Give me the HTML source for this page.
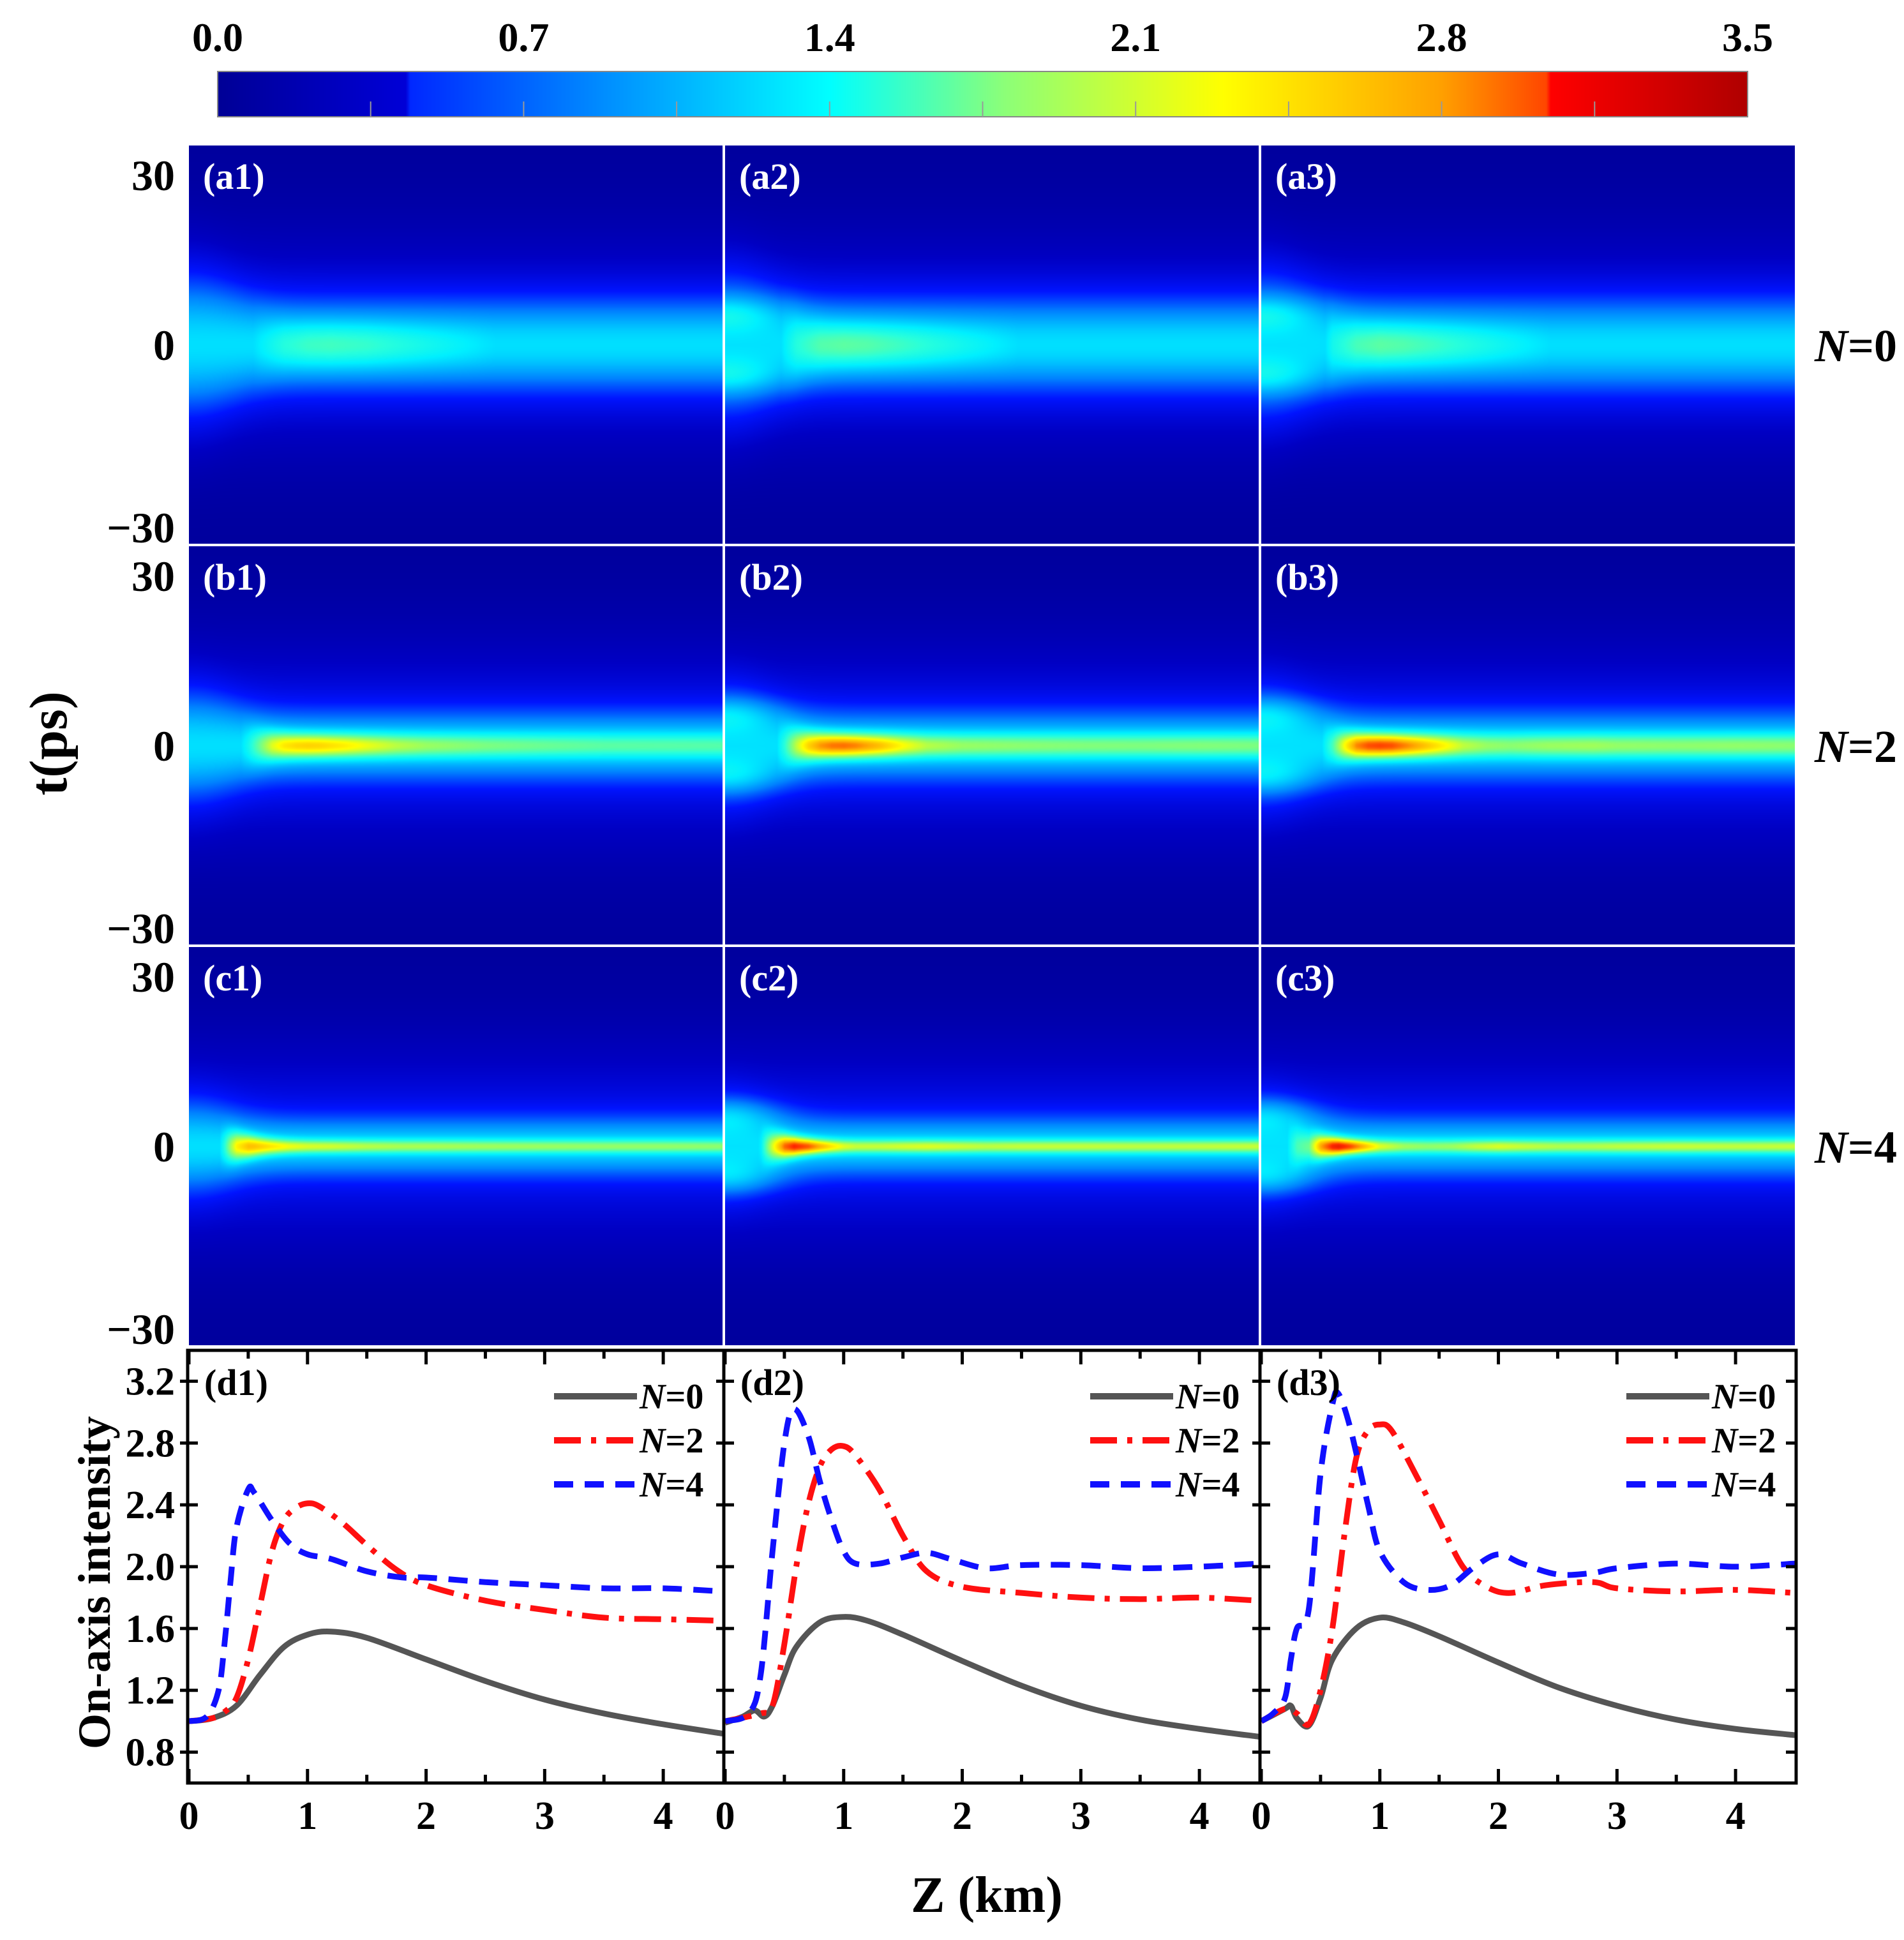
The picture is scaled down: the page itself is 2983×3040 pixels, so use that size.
<!DOCTYPE html>
<html><head><meta charset="utf-8">
<style>
html,body{margin:0;padding:0;background:#fff;}
#root{position:relative;width:2983px;height:3040px;overflow:hidden;background:#fff;}
canvas{position:absolute;}
svg{position:absolute;left:0;top:0;}
text{font-family:"Liberation Serif",serif;font-weight:bold;}
</style></head>
<body>
<div id="root">
<canvas id="cbar" width="2397" height="71" style="left:341px;top:112px"></canvas>
<svg id="svg" width="2983" height="3040" xmlns="http://www.w3.org/2000/svg"></svg>
</div>
<script>
// ---- colormap / colorbar data
const cbTickLabels=["0.0","0.7","1.4","2.1","2.8","3.5"];
const cbMin=0, cbMax=3.5;
const cmapVals=[0,0.43,0.44,0.9,1.4,1.8,2.3,2.8,3.04,3.05,3.5];
const cmapCols=[[0,0,150],[0,0,215],[0,40,255],[0,145,255],[0,255,255],[140,255,120],[255,255,0],[255,160,0],[255,70,0],[255,0,0],[175,0,0]];
const hmVals=[0,0.3,0.6,0.9,1.3,1.5,1.9,2.2,2.6,3.0,3.5];
const hmCols=[[0,0,150],[0,0,195],[0,20,255],[0,130,255],[0,240,255],[40,255,220],[160,255,90],[255,255,0],[255,170,0],[255,40,0],[170,0,0]];

// ---- line plot data (z in km, on-axis intensity)
const zTicks=[0,1,2,3,4];
const yTicks=[0.8,1.2,1.6,2.0,2.4,2.8,3.2];
const zMax=4.5, yMin=0.6, yMax=3.4;
const z_d1_n0=[0,0.2,0.4,0.6,0.8,1.0,1.2,1.5,2.0,2.5,3.0,3.5,4.0,4.5];
const I_d1_n0=[1.0,1.02,1.1,1.3,1.48,1.56,1.58,1.54,1.40,1.26,1.14,1.05,0.98,0.92];
const z_d1_n2=[0,0.2,0.3,0.4,0.5,0.6,0.7,0.8,0.9,1.0,1.1,1.3,1.5,1.75,2.0,2.5,3.0,3.5,4.0,4.5];
const I_d1_n2=[1.0,1.02,1.06,1.15,1.4,1.75,2.1,2.3,2.38,2.41,2.39,2.28,2.14,1.98,1.88,1.78,1.72,1.67,1.66,1.65];
const z_d1_n4=[0,0.15,0.25,0.3,0.35,0.4,0.5,0.55,0.7,0.85,1.0,1.2,1.5,1.8,2.0,2.5,3.0,3.5,4.0,4.5];
const I_d1_n4=[1.0,1.03,1.2,1.5,1.9,2.25,2.5,2.48,2.3,2.15,2.08,2.05,1.97,1.93,1.93,1.9,1.88,1.86,1.86,1.84];
const z_d2_n0=[0,0.15,0.25,0.33,0.4,0.5,0.6,0.8,1.0,1.2,1.5,2.0,2.5,3.0,3.5,4.0,4.5];
const I_d2_n0=[0.99,1.03,1.07,1.03,1.1,1.3,1.48,1.64,1.675,1.65,1.56,1.39,1.23,1.1,1.01,0.95,0.9];
const z_d2_n2=[0,0.3,0.4,0.5,0.6,0.7,0.8,0.9,1.0,1.1,1.3,1.5,1.7,2.0,2.5,3.0,3.5,4.0,4.5];
const I_d2_n2=[1.0,1.05,1.1,1.5,2.0,2.4,2.65,2.76,2.78,2.72,2.5,2.2,1.97,1.87,1.83,1.8,1.79,1.8,1.78];
const z_d2_n4=[0,0.2,0.3,0.4,0.5,0.58,0.7,0.8,0.9,1.0,1.1,1.3,1.5,1.7,1.9,2.2,2.5,3.0,3.5,4.0,4.5];
const I_d2_n4=[1.0,1.05,1.3,2.1,2.8,3.02,2.85,2.55,2.3,2.1,2.02,2.02,2.06,2.09,2.05,1.99,2.01,2.01,1.99,2.0,2.02];
const z_d3_n0=[0,0.2,0.25,0.3,0.4,0.5,0.6,0.8,1.0,1.2,1.5,2.0,2.5,3.0,3.5,4.0,4.5];
const I_d3_n0=[1.0,1.08,1.1,1.02,0.97,1.15,1.4,1.6,1.67,1.64,1.55,1.38,1.22,1.1,1.01,0.95,0.91];
const z_d3_n2=[0,0.2,0.3,0.4,0.5,0.6,0.7,0.8,0.9,1.0,1.1,1.3,1.5,1.7,1.9,2.1,2.4,2.8,3.0,3.5,4.0,4.5];
const I_d3_n2=[1.0,1.08,1.05,0.98,1.2,1.6,2.2,2.7,2.88,2.92,2.88,2.6,2.3,2.0,1.87,1.83,1.88,1.9,1.86,1.84,1.85,1.83];
const z_d3_n4=[0,0.1,0.2,0.25,0.3,0.4,0.5,0.6,0.65,0.75,0.9,1.0,1.2,1.4,1.6,1.8,2.0,2.2,2.5,2.8,3.0,3.5,4.0,4.5];
const I_d3_n4=[1.0,1.05,1.15,1.4,1.6,1.72,2.6,3.05,3.12,2.9,2.4,2.1,1.9,1.85,1.88,2.0,2.08,2.02,1.95,1.96,1.99,2.02,2.0,2.02];

// ---- heatmap model parameters (per row N=0,2,4)
const rowLabels=["N=0","N=2","N=4"];
const coreWidth=[4.0,2.0,1.1];
const haloAmp=[0.7,0.7,0.7];
const haloWidth=[8,6,5];
const bgAmp=0.5, bgWidth=18, floorVal=0.04;

const NS="http://www.w3.org/2000/svg";
const svg=document.getElementById('svg');
function mk(tag,attrs,parent){const e=document.createElementNS(NS,tag);for(const k in attrs)e.setAttribute(k,attrs[k]);(parent||svg).appendChild(e);return e;}
function interp(xs,ys,x){if(x<=xs[0])return ys[0];for(let i=1;i<xs.length;i++){if(x<=xs[i]){const f=(x-xs[i-1])/(xs[i]-xs[i-1]);return ys[i-1]+f*(ys[i]-ys[i-1]);}}return ys[ys.length-1];}
function cm(vals,cols,v){if(v<=vals[0])return cols[0];for(let i=1;i<vals.length;i++){if(v<=vals[i]){const f=(v-vals[i-1])/(vals[i]-vals[i-1]);const a=cols[i-1],b=cols[i];return [a[0]+f*(b[0]-a[0]),a[1]+f*(b[1]-a[1]),a[2]+f*(b[2]-a[2])];}}return cols[cols.length-1];}

const colX=[296,1136,1976], colW=836;
const rowY=[228,856,1484], rowH=624;
const dTop=2116, dBot=2794;
const pxPerPs=9;

(function(){const c=document.getElementById('cbar');const ctx=c.getContext('2d');const im=ctx.createImageData(c.width,c.height);
for(let x=0;x<c.width;x++){const v=cbMin+(cbMax-cbMin)*x/(c.width-1);const col=cm(cmapVals,cmapCols,v);for(let y=0;y<c.height;y++){const i=(y*c.width+x)*4;im.data[i]=col[0];im.data[i+1]=col[1];im.data[i+2]=col[2];im.data[i+3]=255;}}
ctx.putImageData(im,0,0);})();
const cbX0=341,cbW=2397,cbY0=112,cbH=71;
function cbx(v){return cbX0+(v-cbMin)/(cbMax-cbMin)*cbW;}
mk('rect',{x:cbX0,y:cbY0,width:cbW,height:cbH,fill:'none',stroke:'#888','stroke-width':2,});
for(let k=1;k<10;k++){const v=k*0.35;const t=mk('line',{x1:cbx(v),x2:cbx(v),y1:cbY0+cbH,y2:cbY0+cbH-24,stroke:'#999','stroke-width':2});

}
cbTickLabels.forEach(s=>{const t=mk('text',{x:cbx(parseFloat(s)),y:80,'font-size':64,'text-anchor':'middle'});t.textContent=s;

});

const curves=[[ [z_d1_n0,I_d1_n0],[z_d1_n2,I_d1_n2],[z_d1_n4,I_d1_n4] ],
              [ [z_d2_n0,I_d2_n0],[z_d2_n2,I_d2_n2],[z_d2_n4,I_d2_n4] ],
              [ [z_d3_n0,I_d3_n0],[z_d3_n2,I_d3_n2],[z_d3_n4,I_d3_n4] ]];

const root=document.getElementById('root');
const letters=['a','b','c'];
for(let r=0;r<3;r++){for(let c=0;c<3;c++){
  const cv=document.createElement('canvas');cv.width=colW;cv.height=rowH;
  cv.style.left=colX[c]+'px';cv.style.top=rowY[r]+'px';
  
  
  root.insertBefore(cv,svg);
  const ctx=cv.getContext('2d');const im=ctx.createImageData(colW,rowH);
  const [zs,Is]=curves[c][r];
  for(let x=0;x<colW;x++){
    const z=x/colW*zMax;const A=interp(zs,Is,z);
    const early=Math.exp(-Math.pow(z/0.45,2));
    const cw=coreWidth[r]*(1+2.5*early);
    const h=haloAmp[r];
    const hw=haloWidth[r]*(1+0.6*early);
    const core=Math.max(A-floorVal-bgAmp-h,0);
    for(let y=0;y<rowH;y++){
      const t=(rowH/2-y)/pxPerPs;
      let v=floorVal+bgAmp*Math.exp(-(t/bgWidth)*(t/bgWidth))+h*Math.exp(-(t/hw)*(t/hw))+core*Math.exp(-(t/cw)*(t/cw));
      if(c>0){v+=0.3*early*Math.exp(-Math.pow((Math.abs(t)-5.5)/3,2));}
      const col=cm(hmVals,hmCols,v);const i=(y*colW+x)*4;
      im.data[i]=col[0];im.data[i+1]=col[1];im.data[i+2]=col[2];im.data[i+3]=255;
    }
  }
  ctx.putImageData(im,0,0);
  const lb=mk('text',{x:colX[c]+22,y:rowY[r]+68,'font-size':58,fill:'#fff'});lb.textContent='('+letters[r]+(c+1)+')';
  
  
}
  const tl=[["30",rowY[r]+70],["0",rowY[r]+rowH/2+24],["\u221230",rowY[r]+rowH-2]];
  tl.forEach(p=>{const t=mk('text',{x:274,y:p[1],'font-size':68,'text-anchor':'end'});t.textContent=p[0];
    
    });
  const nl=mk('text',{x:2843,y:rowY[r]+rowH/2+26,'font-size':72});
  nl.innerHTML='<tspan font-style="italic">N</tspan>='+rowLabels[r].slice(2);
  
  
}
const tt=mk('text',{x:0,y:0,'font-size':84,'text-anchor':'middle',transform:'translate(104,1165) rotate(-90)'});tt.textContent='t(ps)';



function catmull(pts){let d='M'+pts[0][0]+','+pts[0][1];for(let i=0;i<pts.length-1;i++){const p0=pts[Math.max(0,i-1)],p1=pts[i],p2=pts[i+1],p3=pts[Math.min(pts.length-1,i+2)];
const c1=[p1[0]+(p2[0]-p0[0])/6,p1[1]+(p2[1]-p0[1])/6],c2=[p2[0]-(p3[0]-p1[0])/6,p2[1]-(p3[1]-p1[1])/6];d+=' C'+c1[0]+','+c1[1]+' '+c2[0]+','+c2[1]+' '+p2[0]+','+p2[1];}return d;}
const styles=[{stroke:'#555555',dash:'none'},{stroke:'#ff1010',dash:'42 16 8 16'},{stroke:'#1010ff',dash:'30 18'}];
const legLabels=['0','2','4'];
for(let c=0;c<3;c++){
  const x0=colX[c];
  const X=z=>x0+z/zMax*colW;
  const Y=v=>dBot-(v-yMin)/(yMax-yMin)*(dBot-dTop);
  const g=mk('g',{});
  
  
  for(let s=0;s<3;s++){
    const [zs,Is]=curves[c][s];
    const pts=zs.map((z,i)=>[X(z),Y(Is[i])]);
    const p=mk('path',{d:catmull(pts),fill:'none',stroke:styles[s].stroke,'stroke-width':9,'stroke-dasharray':styles[s].dash,'stroke-linejoin':'round'},g);
    
    
    const ly=2188+s*69;
    const ll=mk('line',{x1:x0+572,x2:x0+702,y1:ly,y2:ly,stroke:styles[s].stroke,'stroke-width':10,'stroke-dasharray':styles[s].dash},g);
    
    
    const lt=mk('text',{x:x0+706,y:ly+19,'font-size':56},g);
    lt.innerHTML='<tspan font-style="italic">N</tspan>='+legLabels[s];
    
    
  }
  const fr=mk('rect',{x:x0-2,y:dTop,width:colW+4,height:dBot-dTop,fill:'none',stroke:'#000','stroke-width':5});
  
  
  for(let k=0;k<=9;k++){const z=k*0.5;if(z>=zMax)break;const len=(k%2==0)?22:13;
    mk('line',{x1:X(z),x2:X(z),y1:dBot,y2:dBot-len,stroke:'#000','stroke-width':5});
    mk('line',{x1:X(z),x2:X(z),y1:dTop,y2:dTop+len,stroke:'#000','stroke-width':5});}
  zTicks.forEach(z=>{const t=mk('text',{x:X(z),y:2866,'font-size':62,'text-anchor':'middle'});t.textContent=String(z);
    
    });
  yTicks.forEach(v=>{mk('line',{x1:x0-14,x2:x0+14,y1:Y(v),y2:Y(v),stroke:'#000','stroke-width':5});
    if(c==2)mk('line',{x1:x0+colW-14,x2:x0+colW+4,y1:Y(v),y2:Y(v),stroke:'#000','stroke-width':5});
    if(c==0){const t=mk('text',{x:274,y:Y(v)+21,'font-size':62,'text-anchor':'end'});t.textContent=v.toFixed(1);
      
      }});
  const dl=mk('text',{x:x0+24,y:2186,'font-size':58});dl.textContent='(d'+(c+1)+')';
  
  
}
const yt=mk('text',{x:0,y:0,'font-size':72,'text-anchor':'middle',transform:'translate(172,2480) rotate(-90)'});yt.textContent='On-axis intensity';


const xt=mk('text',{x:1546,y:2996,'font-size':80,'text-anchor':'middle'});xt.textContent='Z (km)';


</script>
</body></html>
